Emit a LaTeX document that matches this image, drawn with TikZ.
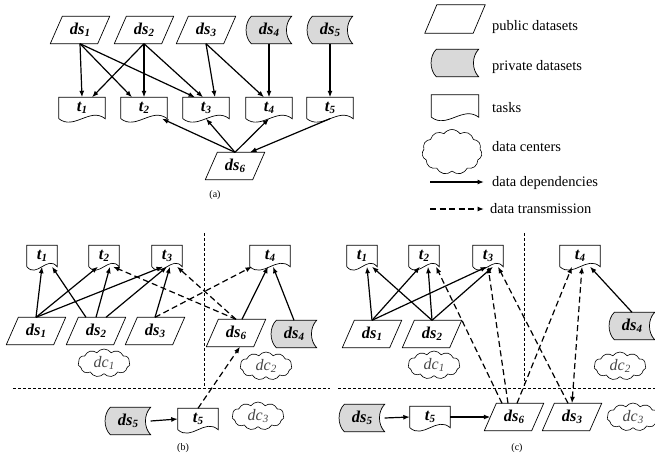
\documentclass[tikz,border=0pt]{standalone}
\usepackage{fontspec}
\setmainfont{Liberation Serif}
\usetikzlibrary{arrows.meta,calc,shapes.symbols,backgrounds}
\newcommand{\dslab}[1]{\textbf{\textit{ds\raisebox{-2.5pt}{\fontsize{11}{11}\selectfont#1}}}}
\newcommand{\tlab}[1]{\textbf{\textit{t\raisebox{-2.5pt}{\fontsize{11}{11}\selectfont#1}}}}
\newcommand{\dclab}[1]{\textit{dc\raisebox{-2.5pt}{\fontsize{11}{11}\selectfont#1}}}
\tikzset{
 pubds/.style={rectangle,minimum width=47pt,minimum height=27pt,inner sep=0pt,font=\fontsize{16.5}{17}\selectfont},
 privds/.style={rectangle,minimum width=45pt,minimum height=27pt,inner sep=0pt,font=\fontsize{16.5}{17}\selectfont},
 task/.style={rectangle,minimum width=46pt,minimum height=21pt,inner sep=0pt,font=\fontsize{16.5}{17}\selectfont},
 smalltask/.style={task,minimum width=30pt},
 midtask/.style={task,minimum width=40pt},
 dcenter/.style={cloud,cloud puffs=11,cloud puff arc=110,aspect=2,draw,line width=.6pt,minimum width=52pt,minimum height=28pt,inner sep=0pt,text=black!72,font=\fontsize{16}{17}\selectfont},
 dep/.style={-{Latex[length=6.5pt,width=5pt]},line width=1.2pt},
 trans/.style={dep,dash pattern=on 6pt off 3.5pt},
 split/.style={line width=.5pt,dash pattern=on 3pt off 2pt},
 caption/.style={font=\fontsize{10}{11}\selectfont},
 legtext/.style={anchor=base west,inner sep=0pt,font=\fontsize{14.5}{16}\selectfont}
}
\begin{document}
\begin{tikzpicture}[x=1pt,y=-1pt]
\useasboundingbox (0,0) rectangle (655,453);
% (a) dependencies
\node[pubds] (dsA1) at (80,30) {\dslab{1}};
\node[pubds] (dsA2) at (144,30) {\dslab{2}};
\node[pubds] (dsA3) at (206,30) {\dslab{3}};
\node[privds] (dsA4) at (269,30) {\dslab{4}};
\node[privds] (dsA5) at (330,30) {\dslab{5}};
\node[task] (tA1) at (82,108) {\tlab{1}};
\node[task] (tA2) at (144,108) {\tlab{2}};
\node[task] (tA3) at (206,108) {\tlab{3}};
\node[task] (tA4) at (269,108) {\tlab{4}};
\node[task] (tA5) at (330,108) {\tlab{5}};
\node[pubds] (dsA6) at (235,166) {\dslab{6}};
\draw[dep] (dsA1.south) -- (tA1.north);
\draw[dep] (dsA1.south) -- ([xshift=-12pt]tA2.north);
\draw[dep] (dsA1.south) -- ([xshift=-11pt]tA3.north);
\draw[dep] (dsA2.south) -- ([xshift=10pt]tA1.north);
\draw[dep] (dsA2.south) -- (tA2.north);
\draw[dep] (dsA2.south) -- ([xshift=-3pt]tA3.north);
\draw[dep] (dsA3.south) -- ([xshift=9pt]tA3.north);
\draw[dep] (dsA3.south) -- ([xshift=-5pt]tA4.north);
\draw[dep] (dsA4.south) -- (tA4.north);
\draw[dep] (dsA5.south) -- (tA5.north);
\draw[dep] (dsA6.north) -- ([xshift=18pt]tA2.south);
\draw[dep] (dsA6.north) -- (tA3.south);
\draw[dep] (dsA6.north) -- (tA4.south);
\draw[dep] (tA5.south) -- ([xshift=15pt]dsA6.north);
\node[caption] (capA) at (215,195) {(a)};
% legend
\node[pubds,minimum width=48pt,minimum height=28pt] (lpub) at (455,19) {};
\node[privds,minimum width=47pt] (lpriv) at (455,63) {};
\node[task,minimum width=47pt,minimum height=22pt] (ltask) at (455,106) {};
\node[dcenter,minimum width=60pt,minimum height=45pt,aspect=1.3] (lcloud) at (452,152) {};
\coordinate (ldepa) at (430,182);
\coordinate (ldepb) at (484,182);
\coordinate (ltrana) at (430,209);
\coordinate (ltranb) at (484,209);
\draw[dep] (ldepa) -- (ldepb);
\draw[trans] (ltrana) -- (ltranb);
\node[legtext] (tpub) at (492,30) {public datasets};
\node[legtext] (tpriv) at (492,70) {private datasets};
\node[legtext] (ttask) at (492,112) {tasks};
\node[legtext] (tcloud) at (492,151) {data centers};
\node[legtext] (tdep) at (492,186) {data dependencies};
\node[legtext] (ttran) at (490,213) {data transmission};
% (b) placement
\draw[split] (204,233) -- (204,388);
\draw[split] (13,388) -- (330,388);
\node[smalltask] (tB1) at (42,256) {\tlab{1}};
\node[smalltask] (tB2) at (104,256) {\tlab{2}};
\node[smalltask] (tB3) at (167,256) {\tlab{3}};
\node[midtask] (tB4) at (270,256) {\tlab{4}};
\node[pubds] (dsB1) at (36,331) {\dslab{1}};
\node[pubds] (dsB2) at (96,331) {\dslab{2}};
\node[pubds] (dsB3) at (155,331) {\dslab{3}};
\node[pubds] (dsB6) at (236,333) {\dslab{6}};
\node[privds] (dsB4) at (294,334) {\dslab{4}};
\node[dcenter] (dcB1) at (104,363) {\dclab{1}};
\node[dcenter] (dcB2) at (266,366) {\dclab{2}};
\node[privds] (dsB5) at (128,421) {\dslab{5}};
\node[midtask] (tB5) at (198,419) {\tlab{5}};
\node[dcenter] (dcB3) at (258,416) {\dclab{3}};
\draw[dep] (dsB1.north) -- (tB1.south);
\draw[dep] (dsB1.north) -- ([xshift=-6pt]tB2.south);
\draw[dep] (dsB1.north) -- ([xshift=-4pt]tB3.south);
\draw[dep] ([xshift=-10pt]dsB2.north) -- ([xshift=10pt]tB1.south);
\draw[dep] (dsB2.north) -- ([xshift=6pt]tB2.south);
\draw[dep] ([xshift=10pt]dsB2.north) -- (tB3.south);
\draw[dep] (dsB3.north) -- ([xshift=3pt]tB3.south);
\draw[trans] (dsB3.north) -- ([xshift=-18pt]tB4.south);
\draw[trans] (dsB6.north) -- ([xshift=9pt]tB2.south);
\draw[trans] (dsB6.north) -- ([xshift=10pt]tB3.south);
\draw[dep] ([xshift=6pt]dsB6.north) -- ([xshift=-2pt]tB4.south);
\draw[dep] (dsB4.north) -- ([xshift=3pt]tB4.south);
\draw[dep] (dsB5.east) -- (tB5.west);
\draw[trans] (tB5.north) -- ([xshift=4pt]dsB6.south);
\node[caption] (capB) at (183,448) {(b)};
% (c) placement
\draw[split] (524,233) -- (524,388);
\draw[split] (338,388) -- (655,388);
\node[smalltask] (tC1) at (362,256) {\tlab{1}};
\node[smalltask] (tC2) at (424,256) {\tlab{2}};
\node[smalltask] (tC3) at (488,256) {\tlab{3}};
\node[midtask] (tC4) at (580,256) {\tlab{4}};
\node[pubds] (dsC1) at (372,334) {\dslab{1}};
\node[pubds] (dsC2) at (432,334) {\dslab{2}};
\node[privds] (dsC4) at (632,326) {\dslab{4}};
\node[dcenter] (dcC1) at (434,365) {\dclab{1}};
\node[dcenter] (dcC2) at (620,366) {\dclab{2}};
\node[privds] (dsC5) at (362,418) {\dslab{5}};
\node[midtask] (tC5) at (430,417) {\tlab{5}};
\node[pubds] (dsC6) at (514,417) {\dslab{6}};
\node[pubds] (dsC3) at (572,417) {\dslab{3}};
\node[dcenter] (dcC3) at (633,417) {\dclab{3}};
\draw[dep] (dsC1.north) -- ([xshift=5pt]tC1.south);
\draw[dep] (dsC1.north) -- ([xshift=-4pt]tC2.south);
\draw[dep] (dsC1.north) -- ([xshift=-1pt]tC3.south);
\draw[dep] (dsC2.north) -- ([xshift=10pt]tC1.south);
\draw[dep] (dsC2.north) -- ([xshift=4pt]tC2.south);
\draw[dep] (dsC2.north) -- ([xshift=5pt]tC3.south);
\draw[dep] (dsC4.north) -- ([xshift=10pt]tC4.south);
\draw[dep] (dsC5.east) -- (tC5.west);
\draw[dep] (tC5.east) -- (dsC6.west);
\draw[trans] ([xshift=-12pt]dsC6.north) -- ([xshift=12pt]tC2.south);
\draw[trans] ([xshift=-6pt]dsC6.north) -- (tC3.south);
\draw[trans] ([xshift=3pt]dsC6.north) -- ([xshift=-8pt]tC4.south);
\draw[trans] ([xshift=-4pt]dsC3.north) -- ([xshift=10pt]tC3.south);
\draw[trans,{Latex[length=6.5pt,width=5pt]}-{Latex[length=6.5pt,width=5pt]}] (dsC3.north) -- ([xshift=2pt]tC4.south);
\node[caption] (capC) at (517,448) {(c)};
% outlines of datasets and tasks
\begin{scope}[on background layer]
\foreach \n in {dsA1,dsA2,dsA3,dsA6,dsB1,dsB2,dsB3,dsB6,dsC1,dsC2,dsC6,dsC3,lpub}
  \draw[line width=.7pt] ([xshift=-6pt]\n.south west) -- ([xshift=6pt]\n.north west) -- ([xshift=6pt]\n.north east) -- ([xshift=-6pt]\n.south east) -- cycle;
\foreach \n in {dsA4,dsA5,dsB4,dsB5,dsC4,dsC5,lpriv}
  \draw[line width=.7pt,fill=gray!30] ([xshift=5pt]\n.north west) -- (\n.north east)
    .. controls ([xshift=-7pt]$(\n.north east)!.25!(\n.south east)$) and ([xshift=-7pt]$(\n.north east)!.75!(\n.south east)$) .. (\n.south east)
    -- ([xshift=5pt]\n.south west)
    .. controls ([xshift=-2pt]$(\n.south west)!.25!(\n.north west)$) and ([xshift=-2pt]$(\n.south west)!.75!(\n.north west)$) .. ([xshift=5pt]\n.north west) -- cycle;
\foreach \n in {tA1,tA2,tA3,tA4,tA5,tB1,tB2,tB3,tB4,tB5,tC1,tC2,tC3,tC4,tC5,ltask}
  \draw[line width=.7pt] (\n.south west) -- (\n.north west) -- (\n.north east) -- (\n.south east) .. controls ([yshift=12pt]$(\n.south east)!.33!(\n.south west)$) and ([yshift=-12pt]$(\n.south west)!.33!(\n.south east)$) .. (\n.south west);
\end{scope}
\end{tikzpicture}
\end{document}
